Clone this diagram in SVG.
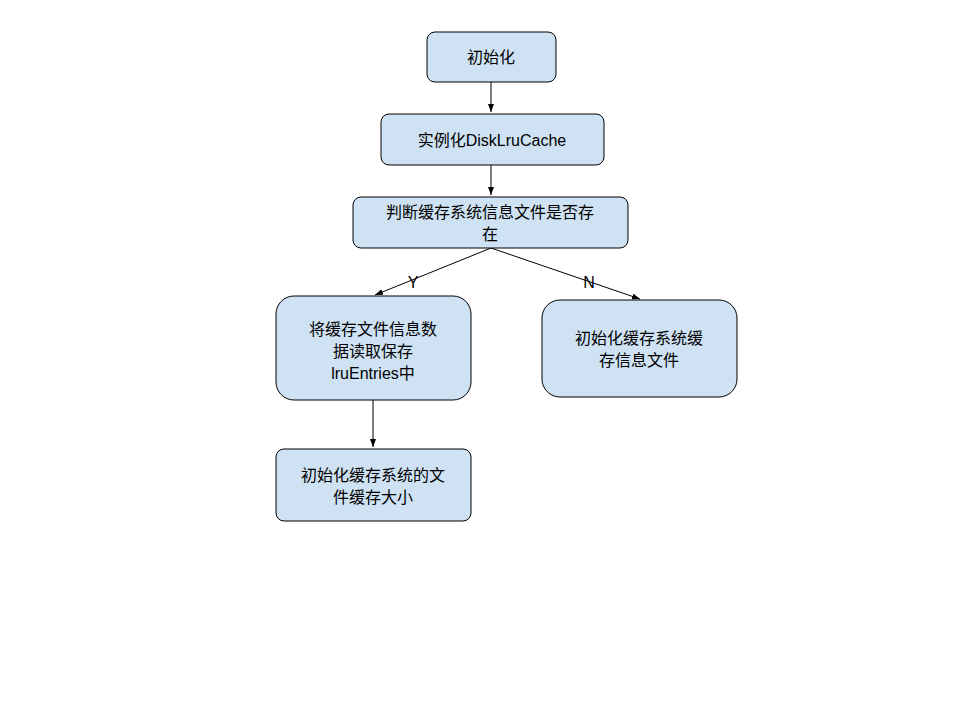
<svg xmlns="http://www.w3.org/2000/svg" width="960" height="720" viewBox="0 0 960 720">
<style>
.n{fill:#cfe2f3;stroke:#000;stroke-width:1}
.t{font-family:"Liberation Sans","Noto Sans CJK SC",sans-serif;font-size:16px;fill:#000;text-anchor:middle}
.c{stroke:#000;stroke-width:1;fill:none;marker-end:url(#a)}
</style>
<defs><marker id="a" markerWidth="8" markerHeight="6" refX="8" refY="3" orient="auto" markerUnits="userSpaceOnUse"><path d="M0,0L8,3L0,6z" fill="#000"/></marker></defs>
<rect width="960" height="720" fill="#fff"/>
<g id="connectors">
<path class="c" d="M491,82V112"/>
<path class="c" d="M491,165V195"/>
<path class="c" d="M491,248L375,295"/>
<path class="c" d="M491,248L640,299"/>
<path class="c" d="M373,400V447"/>
<text class="t" x="413" y="288">Y</text>
<text class="t" x="589" y="288">N</text>
</g>
<g id="n1"><rect class="n" x="427" y="32" width="129" height="50" rx="8"/><text class="t" x="491" y="63">初始化</text></g>
<g id="n2"><rect class="n" x="381" y="114" width="223" height="51" rx="8"/><text class="t" x="492" y="146">实例化DiskLruCache</text></g>
<g id="n3"><rect class="n" x="353" y="197" width="275" height="51" rx="8"/><text class="t" x="490" y="218">判断缓存系统信息文件是否存</text><text class="t" x="490" y="240">在</text></g>
<g id="n4"><rect class="n" x="276" y="296" width="195" height="104" rx="18"/><text class="t" x="373" y="335">将缓存文件信息数</text><text class="t" x="373" y="357">据读取保存</text><text class="t" x="373" y="379">lruEntries中</text></g>
<g id="n5"><rect class="n" x="542" y="300" width="195" height="97" rx="18"/><text class="t" x="639" y="344">初始化缓存系统缓</text><text class="t" x="639" y="366">存信息文件</text></g>
<g id="n6"><rect class="n" x="276" y="449" width="195" height="72" rx="8"/><text class="t" x="373" y="481">初始化缓存系统的文</text><text class="t" x="373" y="503">件缓存大小</text></g>
</svg>
